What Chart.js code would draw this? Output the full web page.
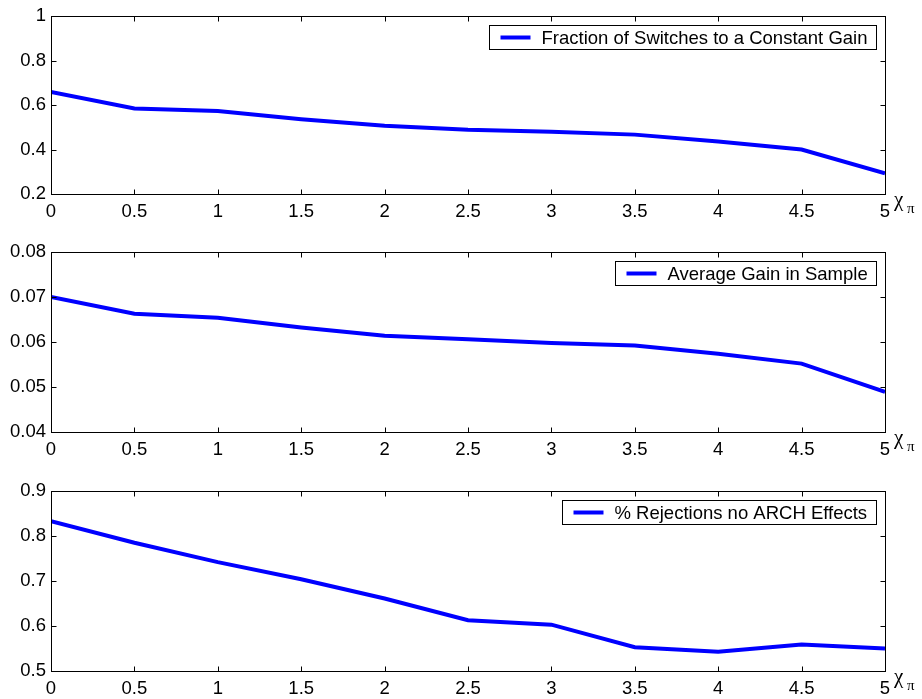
<!DOCTYPE html>
<html>
<head>
<meta charset="utf-8">
<script src="https://cdn.jsdelivr.net/npm/chart.js@4.4.1/dist/chart.umd.min.js"></script>
<style>
  html, body { margin: 0; padding: 0; background: #fff; }
  body { width: 922px; height: 699px; position: relative; overflow: hidden; }
  .panel { position: absolute; left: 0; width: 922px; }
</style>
</head>
<body>
<div class="panel" id="p1" style="top:0;height:230px"><canvas id="c1"></canvas></div>
<div class="panel" id="p2" style="top:230px;height:238px"><canvas id="c2"></canvas></div>
<div class="panel" id="p3" style="top:468px;height:231px"><canvas id="c3"></canvas></div>
<script>
// --- Données ---
const chiPi = [0, 0.5, 1, 1.5, 2, 2.5, 3, 3.5, 4, 4.5, 5];
const xTicks = [0, 0.5, 1, 1.5, 2, 2.5, 3, 3.5, 4, 4.5, 5];

const fractionSwitches = [0.659, 0.585, 0.573, 0.536, 0.507, 0.489, 0.480, 0.467, 0.436, 0.400, 0.293];
const averageGain = [0.0700, 0.0663, 0.0654, 0.0632, 0.0614, 0.0606, 0.0598, 0.0592, 0.0574, 0.0552, 0.0489];
const rejectionsArch = [0.833, 0.785, 0.742, 0.704, 0.661, 0.613, 0.603, 0.553, 0.543, 0.559, 0.550];

const yTicks1 = [0.2, 0.4, 0.6, 0.8, 1];
const yTicks2 = [0.04, 0.05, 0.06, 0.07, 0.08];
const yTicks3 = [0.5, 0.6, 0.7, 0.8, 0.9];

const FONT = "'Liberation Sans', Arial, Helvetica, sans-serif";
const SERIF = "'Liberation Serif', 'Times New Roman', serif";
const FSIZE = 18.5;
const BLUE = "#0000ff";

// --- Cadre + graduations vers l'intérieur (style MATLAB) ---
const framePlugin = {
  id: "frame",
  afterDraw(chart) {
    const ctx = chart.ctx;
    const { left, right, top, bottom } = chart.chartArea;
    const L = Math.round(left) + 0.5, R = Math.round(right) + 0.5;
    const T = Math.round(top) + 0.5, B = Math.round(bottom) + 0.5;
    ctx.save();
    ctx.strokeStyle = "#000";
    ctx.lineWidth = 1;
    ctx.strokeRect(L, T, R - L, B - T);
    ctx.beginPath();
    chart.scales.x.ticks.forEach(t => {
      const px = Math.round(chart.scales.x.getPixelForValue(t.value)) + 0.5;
      ctx.moveTo(px, B); ctx.lineTo(px, B - 5);
      ctx.moveTo(px, T); ctx.lineTo(px, T + 5);
    });
    chart.scales.y.ticks.forEach(t => {
      const py = Math.round(chart.scales.y.getPixelForValue(t.value)) + 0.5;
      ctx.moveTo(L, py); ctx.lineTo(L + 5, py);
      ctx.moveTo(R, py); ctx.lineTo(R - 5, py);
    });
    ctx.stroke();

    // légende dans un encadré en haut à droite
    const label = chart.data.datasets[0].label;
    ctx.font = FSIZE + "px " + FONT;
    const tw = ctx.measureText(label).width;
    const bw = Math.round(tw + 61), bh = 24;
    const bx = Math.round(right - 9 - bw) + 0.5;
    const by = Math.round(top + 9) + 0.5;
    ctx.fillStyle = "#fff";
    ctx.fillRect(bx, by, bw, bh);
    ctx.strokeRect(bx, by, bw, bh);
    ctx.strokeStyle = BLUE;
    ctx.lineWidth = 4;
    ctx.beginPath();
    ctx.moveTo(bx + 11, by + bh / 2);
    ctx.lineTo(bx + 41, by + bh / 2);
    ctx.stroke();
    ctx.fillStyle = "#000";
    ctx.textBaseline = "middle";
    ctx.textAlign = "left";
    ctx.fillText(label, bx + 52, by + bh / 2 + 1);

    // étiquette de l'axe x : chi_pi
    ctx.textBaseline = "alphabetic";
    ctx.font = "21px " + SERIF;
    ctx.fillText("\u03C7", right + 9, bottom + 12);
    ctx.font = "15px " + SERIF;
    ctx.fillText("\u03C0", right + 22, bottom + 19);
    ctx.restore();
  }
};

function fmt(v) {
  return String(parseFloat(v.toFixed(4)));
}

function makePanel(canvasId, label, values, yTicks, padTop, xHeight) {
  new Chart(document.getElementById(canvasId), {
    type: "line",
    data: {
      datasets: [{
        label: label,
        data: chiPi.map((x, i) => ({ x: x, y: values[i] })),
        borderColor: BLUE,
        backgroundColor: BLUE,
        borderWidth: 4,
        pointRadius: 0,
        tension: 0,
        fill: false
      }]
    },
    options: {
      responsive: true,
      maintainAspectRatio: false,
      animation: false,
      layout: { padding: { top: padTop, right: 37, left: 0, bottom: 0 } },
      plugins: {
        legend: { display: false },
        tooltip: { enabled: false }
      },
      scales: {
        x: {
          type: "linear",
          min: xTicks[0],
          max: xTicks[xTicks.length - 1],
          afterBuildTicks: s => { s.ticks = xTicks.map(v => ({ value: v })); },
          afterFit: s => { s.height = xHeight; },
          grid: { display: false, drawTicks: false },
          border: { display: false },
          ticks: {
            color: "#000",
            font: { family: FONT, size: FSIZE },
            padding: 7,
            maxRotation: 0,
            autoSkip: false,
            callback: v => fmt(v)
          }
        },
        y: {
          min: yTicks[0],
          max: yTicks[yTicks.length - 1],
          afterBuildTicks: s => { s.ticks = yTicks.map(v => ({ value: v })); },
          afterFit: s => { s.width = 51; },
          grid: { display: false, drawTicks: false },
          border: { display: false },
          ticks: {
            color: "#000",
            font: { family: FONT, size: FSIZE },
            padding: 5,
            autoSkip: false,
            callback: v => fmt(v)
          }
        }
      }
    },
    plugins: [framePlugin]
  });
}

document.addEventListener("DOMContentLoaded", () => {
  if (typeof Chart === "undefined") {
    console.error("Chart.js n'est pas chargé");
    return;
  }
  makePanel("c1", "Fraction of Switches to a Constant Gain", fractionSwitches, yTicks1, 14, 36);
  makePanel("c2", "Average Gain in Sample", averageGain, yTicks2, 22, 36);
  makePanel("c3", "% Rejections no ARCH Effects", rejectionsArch, yTicks3, 23, 28);
});
</script>
</body>
</html>
